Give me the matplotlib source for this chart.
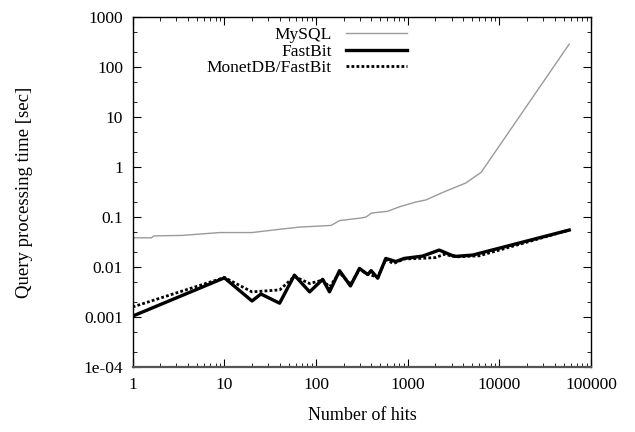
import matplotlib
matplotlib.use('Agg')
import matplotlib.pyplot as plt
from matplotlib.ticker import FixedLocator, FixedFormatter, LogLocator, NullFormatter

# values
mysql_hits = [1, 1.6, 1.7, 3.5, 8.9, 20, 34, 66, 146, 180, 300, 351, 400, 600, 810,
              1230, 1580, 2400, 4300, 6300, 57600]
mysql_time = [0.0385, 0.0385, 0.042, 0.043, 0.049, 0.049, 0.055, 0.063, 0.068, 0.085,
              0.095, 0.10, 0.12, 0.13, 0.16, 0.20, 0.22, 0.31, 0.48, 0.78, 285]

fastbit_hits = [1, 10, 20, 25, 40, 58, 85, 118, 140, 180, 237, 297, 366, 398, 470,
                575, 741, 912, 1450, 2200, 3060, 3360, 5100, 57600]
fastbit_time = [0.00105, 0.0061, 0.0021, 0.0029, 0.0019, 0.0069, 0.0032, 0.0057,
                0.0032, 0.0085, 0.0042, 0.0094, 0.0071, 0.0085, 0.0060, 0.0149,
                0.0129, 0.0149, 0.0166, 0.0219, 0.0170, 0.0164, 0.0174, 0.055]

monet_hits = [1, 10, 20, 40, 58, 85, 118, 140, 180, 237, 297, 366, 470, 575, 700,
              912, 1450, 2000, 2500, 3360, 6000, 57600]
monet_time = [0.0016, 0.0062, 0.0032, 0.0035, 0.0065, 0.0047, 0.0055, 0.0040,
              0.0078, 0.0045, 0.0090, 0.0072, 0.0063, 0.0140, 0.0118, 0.0145,
              0.0150, 0.0155, 0.0180, 0.0160, 0.0168, 0.055]

x_ticks = [1, 10, 100, 1000, 10000, 100000]
x_labels = ['1', '10', '100', '1000', '10000', '100000']
y_ticks = [1e-4, 1e-3, 1e-2, 1e-1, 1, 10, 100, 1000]
y_labels = ['1e-04', '0.001', '0.01', '0.1', '1', '10', '100', '1000']

plt.rcParams['font.family'] = ['Liberation Serif', 'DejaVu Serif']

fig = plt.figure(figsize=(6.35, 4.32), dpi=100)
ax = fig.add_axes([0.209, 0.150, 0.722, 0.811])

ax.plot(mysql_hits, mysql_time, color='#9a9a9a', lw=1.0, label='MySQL')
ax.plot(fastbit_hits, fastbit_time, color='black', lw=2.4, label='FastBit')
ax.plot(monet_hits, monet_time, color='black', lw=2.0, linestyle=(0, (1.0, 0.8)),
        label='MonetDB/FastBit')

ax.set_xscale('log')
ax.set_yscale('log')
ax.set_xlim(1, 100000)
ax.set_ylim(1e-4, 1000)

ax.xaxis.set_major_locator(FixedLocator(x_ticks))
ax.xaxis.set_major_formatter(FixedFormatter(x_labels))
ax.yaxis.set_major_locator(FixedLocator(y_ticks))
ax.yaxis.set_major_formatter(FixedFormatter(y_labels))
ax.xaxis.set_minor_locator(LogLocator(base=10, subs=(2, 3, 4, 5, 6, 7, 8, 9), numticks=20))
ax.yaxis.set_minor_locator(LogLocator(base=10, subs=(2, 5), numticks=20))
ax.xaxis.set_minor_formatter(NullFormatter())
ax.yaxis.set_minor_formatter(NullFormatter())

ax.tick_params(which='both', direction='in', top=True, right=True, labelsize=12.5)
ax.tick_params(which='major', length=6, width=0.8, pad=7)
ax.tick_params(which='minor', length=3, width=0.6)
for s in ax.spines.values():
    s.set_linewidth(1.0)
ax.spines['bottom'].set_linewidth(1.6)
ax.spines['bottom'].set_color('#555555')

ax.set_xlabel('Number of hits', fontsize=13, labelpad=10)
ax.set_ylabel('Query processing time [sec]', fontsize=13.5, labelpad=36)

ax.legend(loc='upper right', frameon=False, markerfirst=False, fontsize=12.5,
          handlelength=3.5, handletextpad=0.8, labelspacing=0.02,
          borderaxespad=0.2, bbox_to_anchor=(0.62, 1.0))

fig.savefig('out.png', dpi=100)
